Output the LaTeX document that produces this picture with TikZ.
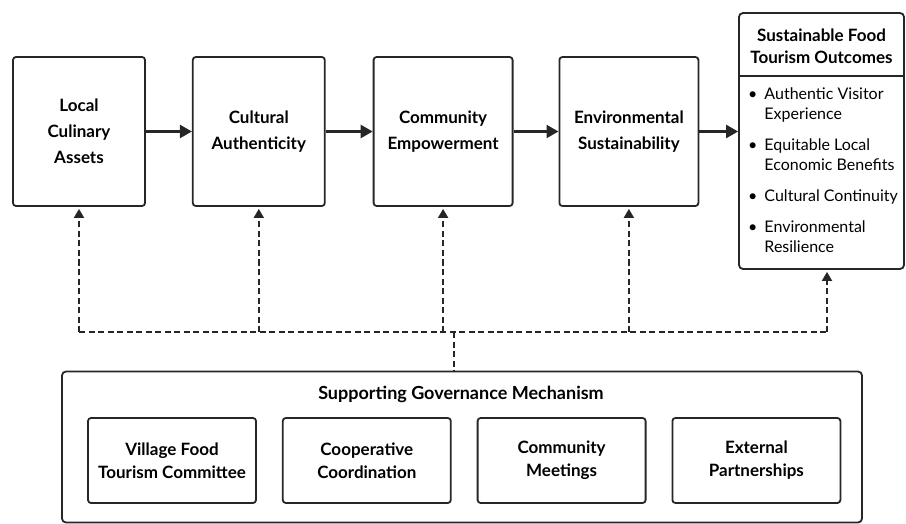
\documentclass[tikz,border=0pt]{standalone}
\usepackage{fontspec}
\setmainfont{Lato}
\usetikzlibrary{positioning,arrows.meta}

\tikzset{
  stage/.style={draw=black!85, line width=1.8pt, rounded corners=3pt,
    minimum width=132pt, minimum height=149pt, inner sep=2pt, align=center,
    font=\fontsize{17}{26}\selectfont\bfseries},
  panel/.style={draw=black!85, line width=1.8pt, rounded corners=4pt, inner sep=0pt},
  mech/.style={draw=black!85, line width=1.8pt, rounded corners=3pt,
    minimum width=168pt, minimum height=85pt, inner sep=2pt, align=center,
    font=\fontsize{17}{23}\selectfont\bfseries},
  flow/.style={-{Triangle[length=12pt,width=13pt]}, line width=2.4pt, draw=black!85},
  link/.style={dash pattern=on 6pt off 3.5pt, line width=1.8pt, draw=black!85},
  uplink/.style={link, -{Triangle[length=9pt,width=10pt]}, shorten >=2pt}
}

\begin{document}
\begin{tikzpicture}[x=1pt, y=1pt]
    \useasboundingbox (0,0) rectangle (906,-524);

    % Stages of the framework
    \node[stage] (assets) at (79,-131.5) {Local\\Culinary\\Assets};
    \node[stage, right=46pt of assets] (authent) {Cultural\\Authenticity};
    \node[stage, minimum width=139pt, right=47pt of authent] (empower) {Community\\Empowerment};
    \node[stage, minimum width=139pt, right=45pt of empower] (environ) {Environmental\\Sustainability};

    % Outcomes panel
    \node[panel, minimum width=165pt, minimum height=256pt] (outcomes) at (821.5,-141) {};
    \node[align=center, font=\fontsize{17}{22}\selectfont\bfseries] (outhead) at (821.5,-46)
        {Sustainable Food\\Tourism Outcomes};
    \draw[black!85, line width=1.5pt] (outcomes.west |- 0,-76) -- (outcomes.east |- 0,-76);
    \node[anchor=north west, inner sep=0pt, font=\fontsize{16}{20}\selectfont] (outlist) at (748,-85) {%
        \begin{tabular}{@{}l@{\hspace{7pt}}l@{}}
        \textbullet & Authentic Visitor\\
                    & Experience\\[11pt]
        \textbullet & Equitable Local\\
                    & Economic Benefits\\[11pt]
        \textbullet & Cultural Continuity\\[11pt]
        \textbullet & Environmental\\
                    & Resilience
        \end{tabular}};

    % Main flow
    \draw[flow] (assets) -- (authent);
    \draw[flow] (authent) -- (empower);
    \draw[flow] (empower) -- (environ);
    \draw[flow] (environ.east) -- (environ.east -| outcomes.west);

    % Governance mechanism
    \node[panel, minimum width=800pt, minimum height=151pt] (gov) at (462,-447) {};
    \node[font=\fontsize{18}{20}\selectfont\bfseries] (govtitle) at (461,-394) {Supporting Governance Mechanism};
    \node[mech] (committee) at (172,-460.5) {Village Food\\Tourism Committee};
    \node[mech, right=25pt of committee] (coop) {Cooperative\\Coordination};
    \node[mech, right=25pt of coop] (meetings) {Community\\Meetings};
    \node[mech, right=25pt of meetings] (partners) {External\\Partnerships};

    % Dashed support links
    \coordinate (hub) at (454,-332);
    \coordinate (outtip) at ([xshift=5.5pt]outcomes.south);
    \draw[link] (hub) -- (gov.north -| hub);
    \draw[link] (assets.south |- hub) -- (outtip |- hub);
    \foreach \n in {assets, authent, empower, environ}
        \draw[uplink] (\n.south |- hub) -- (\n.south);
    \draw[uplink] (outtip |- hub) -- (outtip);
\end{tikzpicture}
\end{document}
